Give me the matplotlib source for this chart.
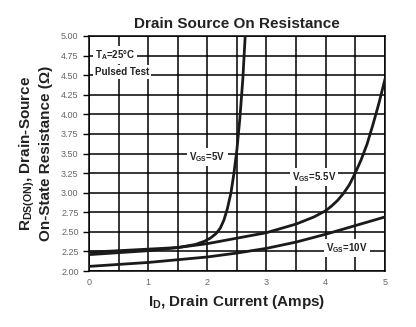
import matplotlib
matplotlib.use("Agg")
import matplotlib.pyplot as plt
import numpy as np

plt.rcParams['font.family'] = ['Liberation Sans', 'DejaVu Sans']
plt.rcParams['mathtext.fontset'] = 'custom'
plt.rcParams['mathtext.rm'] = 'Liberation Sans:bold'
plt.rcParams['mathtext.bf'] = 'Liberation Sans:bold'
plt.rcParams['mathtext.it'] = 'Liberation Sans:bold'

# Data
x_5v = [0, 0.5, 1.0, 1.5, 1.8, 1.95, 2.05, 2.15, 2.22, 2.28, 2.34, 2.40, 2.45, 2.50, 2.55, 2.60, 2.64]
y_5v = [2.24, 2.26, 2.28, 2.30, 2.34, 2.38, 2.42, 2.48, 2.55, 2.65, 2.80, 3.00, 3.25, 3.55, 3.95, 4.45, 5.00]

x_55v = [0, 1.0, 1.5, 2.0, 2.5, 3.0, 3.5, 3.8, 4.0, 4.1, 4.2, 4.3, 4.4, 4.5, 4.6, 4.7, 4.8, 4.9, 5.0]
y_55v = [2.21, 2.26, 2.30, 2.35, 2.42, 2.49, 2.60, 2.69, 2.77, 2.83, 2.90, 2.99, 3.10, 3.25, 3.42, 3.62, 3.87, 4.14, 4.44]

x_10v = [0, 1.0, 2.0, 2.5, 3.0, 3.5, 4.0, 4.5, 5.0]
y_10v = [2.06, 2.11, 2.18, 2.23, 2.29, 2.37, 2.47, 2.58, 2.69]

x_ticks = [0, 1, 2, 3, 4, 5]
y_ticks = [2.00, 2.25, 2.50, 2.75, 3.00, 3.25, 3.50, 3.75, 4.00, 4.25, 4.50, 4.75, 5.00]

fig = plt.figure(figsize=(4.16, 3.27), dpi=100)
ax = fig.add_axes([0.214, 0.171, 0.711, 0.719])

ax.set_xlim(0, 5)
ax.set_ylim(2.0, 5.0)
ax.set_xticks(x_ticks)
ax.set_xticks(np.arange(0, 5.01, 0.5), minor=True)
ax.set_yticks(y_ticks)
ax.set_yticklabels([f"{v:.2f}" for v in y_ticks])
ax.grid(True, which='both', color='black', linewidth=1.1)
ax.tick_params(axis='both', which='both', labelsize=6.5, labelcolor='#666666', length=4, width=1.0, color='black')
ax.tick_params(axis='x', which='minor', length=0)
ax.tick_params(axis='x', which='major', length=0, pad=5)
for s in ax.spines.values():
    s.set_linewidth(1.1)

lw = 2.0
ax.plot(x_5v, y_5v, color='#1a1a1a', linewidth=lw, zorder=3, solid_joinstyle='round')
ax.plot(x_55v, y_55v, color='#1a1a1a', linewidth=lw, zorder=3, solid_joinstyle='round')
ax.plot(x_10v, y_10v, color='#1a1a1a', linewidth=lw, zorder=3, solid_joinstyle='round')

box = dict(facecolor='white', edgecolor='none', pad=1.5)
kw = dict(fontsize=7, fontweight='bold', ha='center', va='center', bbox=box, zorder=4, color='#222222')
ax.text(2.0, 3.46, r'V$_{\mathbf{GS}}$=5V', **kw)
ax.text(3.8, 3.20, r'V$_{\mathbf{GS}}$=5.5V', **kw)
ax.text(4.36, 2.29, r'V$_{\mathbf{GS}}$=10V', **kw)
ax.text(0.1, 4.76, r'T$_{\mathbf{A}}$=25°C', fontsize=7, fontweight='bold', ha='left', va='center', bbox=box, zorder=4, color='#222222')
ax.text(0.1, 4.54, 'Pulsed Test', fontsize=7, fontweight='bold', ha='left', va='center', bbox=box, zorder=4, color='#222222')

ax.set_title('Drain Source On Resistance', fontsize=11, fontweight='bold', pad=6, color='#222222')
ax.set_xlabel(r'I$_{\mathbf{D}}$, Drain Current (Amps)', fontsize=11, fontweight='bold', color='#222222', labelpad=4)
ax.set_ylabel('R$_{\\mathbf{DS(ON)}}$, Drain-Source\nOn-State Resistance (Ω)', fontsize=11, fontweight='bold', color='#222222', labelpad=6, linespacing=1.2)

fig.savefig('out.png', dpi=100)
